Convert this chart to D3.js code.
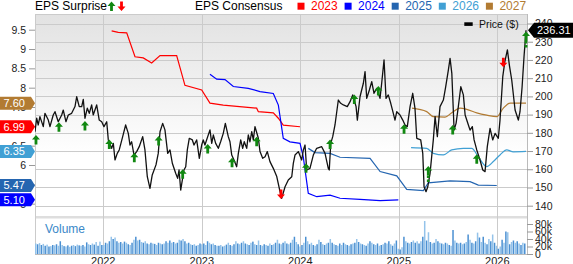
<!DOCTYPE html>
<html><head><meta charset="utf-8">
<script src="https://cdn.jsdelivr.net/npm/d3@7"></script>
<style>body{margin:0;background:#fff}svg{display:block;font-family:"Liberation Sans",Arial,sans-serif}</style>
</head><body><svg id="c" width="573" height="264"></svg>
<script>
// ---------- DATA (decimal year, value) ----------
const priceData = [
[2021.307,180.6],[2021.324,188.0],[2021.340,184.3],[2021.357,188.9],[2021.391,183.4],[2021.408,190.7],[2021.442,187.0],[2021.459,183.4],[2021.492,189.8],[2021.510,191.6],[2021.543,186.1],[2021.578,189.8],[2021.594,192.5],[2021.621,186.1],[2021.645,189.8],[2021.679,190.7],[2021.713,194.4],[2021.730,199.8],[2021.756,194.4],[2021.781,194.4],[2021.797,198.4],[2021.814,188.0],[2021.838,193.5],[2021.858,190.7],[2021.882,195.3],[2021.898,189.8],[2021.933,195.3],[2021.959,187.0],[2021.984,186.1],
[2022.007,183.4],[2022.035,186.1],[2022.051,176.1],[2022.085,171.5],[2022.102,174.2],[2022.119,165.1],[2022.142,168.7],[2022.162,170.6],[2022.197,177.9],[2022.227,184.3],[2022.254,179.7],[2022.271,173.3],[2022.288,175.1],[2022.312,167.8],[2022.339,169.7],[2022.365,172.4],[2022.400,177.9],[2022.423,170.6],[2022.447,155.9],[2022.474,149.5],[2022.497,156.9],[2022.535,162.4],[2022.558,168.7],[2022.576,180.6],[2022.603,185.2],[2022.626,181.6],[2022.654,168.7],[2022.677,170.6],[2022.701,163.3],[2022.735,157.8],[2022.755,155.0],[2022.769,159.6],[2022.786,148.6],[2022.819,159.6],[2022.837,161.4],[2022.853,170.6],[2022.873,177.0],[2022.904,176.1],[2022.921,173.3],[2022.948,176.1],[2022.975,166.0],[2022.999,173.3],
[2023.015,176.1],[2023.032,173.3],[2023.083,181.6],[2023.101,174.2],[2023.117,178.8],[2023.141,174.2],[2023.168,171.5],[2023.192,175.2],[2023.218,179.7],[2023.239,185.2],[2023.269,177.9],[2023.286,175.1],[2023.304,167.8],[2023.327,165.1],[2023.354,161.4],[2023.371,168.7],[2023.395,176.1],[2023.415,171.5],[2023.431,175.1],[2023.456,171.5],[2023.472,178.8],[2023.489,175.1],[2023.507,180.6],[2023.523,176.1],[2023.540,183.4],[2023.574,177.0],[2023.591,169.7],[2023.618,166.0],[2023.642,166.9],[2023.665,169.7],[2023.692,164.2],[2023.726,160.5],[2023.761,156.0],[2023.794,147.7],[2023.811,144.0],[2023.845,150.4],[2023.878,154.1],[2023.913,155.9],[2023.929,163.2],[2023.946,167.8],[2023.980,169.7],
[2024.014,165.1],[2024.031,170.6],[2024.048,173.3],[2024.065,159.6],[2024.098,160.5],[2024.132,167.8],[2024.166,171.5],[2024.217,172.4],[2024.251,168.7],[2024.284,160.5],[2024.294,159.6],[2024.309,174.2],[2024.329,177.9],[2024.352,184.3],[2024.386,198.0],[2024.410,196.2],[2024.437,195.3],[2024.477,194.4],[2024.505,197.1],[2024.532,200.8],[2024.566,194.4],[2024.579,187.0],[2024.606,199.8],[2024.640,207.2],[2024.657,213.6],[2024.674,198.9],[2024.701,203.5],[2024.725,208.1],[2024.748,201.7],[2024.776,204.4],[2024.809,198.9],[2024.826,207.2],[2024.850,220.0],[2024.870,198.9],[2024.893,200.8],[2024.918,196.2],[2024.944,190.7],[2024.961,187.0],[2024.979,191.6],
[2025.012,189.8],[2025.040,187.0],[2025.063,184.3],[2025.086,183.4],[2025.114,194.4],[2025.141,201.7],[2025.164,193.4],[2025.182,177.0],[2025.222,176.1],[2025.243,168.7],[2025.256,150.4],[2025.276,147.7],[2025.294,150.4],[2025.317,157.8],[2025.350,176.1],[2025.368,188.9],[2025.391,177.9],[2025.418,194.4],[2025.452,198.0],[2025.476,205.3],[2025.503,214.5],[2025.520,220.9],[2025.538,212.6],[2025.561,181.5],[2025.581,185.2],[2025.604,194.4],[2025.629,205.3],[2025.655,200.8],[2025.673,189.8],[2025.706,184.3],[2025.723,181.5],[2025.746,183.4],[2025.764,176.1],[2025.791,170.6],[2025.824,165.1],[2025.852,159.6],[2025.875,158.7],[2025.898,172.4],[2025.926,182.4],[2025.953,176.1],[2025.977,179.7],
[2026.010,177.0],[2026.027,187.0],[2026.055,210.8],[2026.076,219.1],[2026.102,225.5],[2026.122,217.2],[2026.146,209.0],[2026.180,192.5],[2026.213,187.0],[2026.230,191.6],[2026.251,205.0],[2026.271,222.0],[2026.291,236.31]
];
const cons2023 = [[2022.085,9.47],[2022.152,9.43],[2022.238,9.42],[2022.322,8.80],[2022.406,8.77],[2022.491,8.64],[2022.576,8.83],[2022.745,8.83],[2022.829,8.06],[2022.999,7.94],[2023.083,7.60],[2023.218,7.55],[2023.557,7.47],[2023.574,7.38],[2023.726,7.35],[2023.777,7.21],[2023.827,7.03],[2023.997,6.99]];
const cons2024 = [[2023.083,8.35],[2023.151,8.22],[2023.236,8.21],[2023.320,8.03],[2023.472,7.98],[2023.591,7.90],[2023.726,7.85],[2023.777,7.55],[2023.827,6.69],[2023.895,6.60],[2023.997,6.56],[2024.030,6.21],[2024.081,5.27],[2024.167,5.18],[2024.302,5.22],[2024.403,5.14],[2024.606,5.11],[2024.810,5.08],[2024.995,5.10]];
const cons2025 = [[2024.081,6.43],[2024.149,6.32],[2024.302,6.30],[2024.403,6.20],[2024.708,6.17],[2024.810,5.83],[2024.979,5.72],[2025.080,5.37],[2025.249,5.34],[2025.299,5.54],[2025.520,5.59],[2025.723,5.57],[2025.807,5.48],[2025.994,5.47]];
const cons2026 = [[2025.124,6.45],[2025.283,6.43],[2025.350,6.30],[2025.452,6.26],[2025.537,6.39],[2025.655,6.43],[2025.740,6.43],[2025.807,6.21],[2025.892,5.96],[2025.959,6.09],[2026.027,6.26],[2026.095,6.39],[2026.162,6.34],[2026.291,6.35]];
const cons2027 = [[2025.134,7.47],[2025.283,7.38],[2025.350,7.25],[2025.469,7.24],[2025.537,7.35],[2025.621,7.47],[2025.689,7.44],[2025.791,7.35],[2025.892,7.29],[2025.994,7.25],[2026.061,7.47],[2026.129,7.60],[2026.291,7.60]];
const seriesYears = ["2023","2024","2025","2026","2027"];
// surprise markers: [date, price level of arrow tip, type, extended stem]
const surprises = [[2021.317,178.8,"beat"],[2021.550,185.8,"beat"],[2021.814,186.5,"beat"],[2022.061,176.4,"beat"],[2022.315,169.1,"beat"],[2022.562,178.3,"beat"],[2022.806,160.0,"beat"],[2023.060,173.9,"beat"],[2023.307,166.3,"beat"],[2023.557,177.9,"beat"],[2023.804,143.7,"miss"],[2024.058,163.3,"beat"],[2024.302,176.4,"beat"],[2024.548,201.1,"beat"],[2024.792,205.7,"beat"],[2025.053,184.7,"beat"],[2025.299,161.8,"beat",true],[2025.547,184.3,"beat"],[2025.791,168.2,"beat"],[2026.061,216.0,"miss"],[2026.291,235.6,"beat",true]];
// weekly volume, thousands
const volumeStart = 2021.307;
const volumeK = [
28,26,29,24,27,22,25,20,21,24,23,26,22,34,24,21,20,23,19,22,24,21,25,23,22,24,20,31,26,24,28,25,32,22,33,24,
24,30,28,34,46,40,44,34,30,32,28,33,30,26,24,30,38,46,36,38,32,30,34,28,26,30,28,27,24,30,28,26,28,34,30,36,30,32,28,30,38,36,40,34,28,30,26,24,26,22,24,28,
26,28,24,34,30,26,28,24,22,22,24,20,22,25,30,24,22,26,34,28,26,30,34,28,26,24,30,33,26,24,36,24,22,26,24,22,28,24,26,30,38,28,26,30,34,28,26,30,38,46,32,26,
20,24,30,46,34,26,30,24,22,26,38,32,26,24,28,30,40,30,26,24,22,28,24,30,26,24,22,26,28,30,40,32,28,26,24,22,28,34,30,26,24,28,22,24,26,30,28,34,26,22,28,36,
14,12,18,46,34,30,28,32,36,30,34,28,34,46,88,36,58,32,28,30,40,34,30,28,26,30,28,24,22,64,36,30,28,30,26,28,32,52,38,30,28,34,57,44,32,46,30,26,40,34,52,30,
22,14,20,38,30,60,58,26,32,36,30,34,28,24,30,28
];
const yearTicks = [2022,2023,2024,2025,2026];
const priceTicks = [140,150,160,170,180,190,200,210,220,230,240];
const epsTicks = [5,5.5,6,6.5,7,7.5,8,8.5,9,9.5];
const volTicks = [0,20,40,60,80];
const lastPrice = 236.31;
const colors = {"2023":"#ff0000","2024":"#0000ff","2025":"#2465b0","2026":"#41a0d4","2027":"#b27b32"};

// ---------- LAYOUT ----------
const L = 35, R = 527, T = 14, MB = 216, VT = 218, VB = 254;
const svg = d3.select("#c");
const x = d3.scaleLinear().domain([2021.307, 2026.301]).range([L, R]);
const yP = d3.scaleLinear().domain([140, 240]).range([205.7, 23.5]);
const yE = d3.scaleLinear().domain([6, 9.5]).range([165, 29.7]);
const yV = d3.scaleLinear().domain([0, 80]).range([VB, 224]);

const defs = svg.append("defs");
const gr = defs.append("linearGradient").attr("id","bg").attr("x1",0).attr("y1",0).attr("x2",0).attr("y2",1);
gr.append("stop").attr("offset","0").attr("stop-color","#e2e2e2");
gr.append("stop").attr("offset","0.7").attr("stop-color","#ffffff");
defs.append("clipPath").attr("id","clipM").append("rect").attr("x",L).attr("y",T).attr("width",R-L+6).attr("height",MB-T);

svg.append("rect").attr("x",L).attr("y",T).attr("width",R-L).attr("height",MB-T).attr("fill","url(#bg)");
svg.append("rect").attr("x",L).attr("y",MB).attr("width",R-L).attr("height",VT-MB+0.5).attr("fill","#dedede");

// gridlines
const grid = svg.append("g").attr("stroke","#cbcbcb").attr("stroke-width",1);
priceTicks.forEach(p => grid.append("line").attr("x1",L).attr("x2",R).attr("y1",Math.round(yP(p))+0.5).attr("y2",Math.round(yP(p))+0.5));
yearTicks.forEach(t => grid.append("line").attr("x1",Math.round(x(t))+0.5).attr("x2",Math.round(x(t))+0.5).attr("y1",T).attr("y2",VB));
grid.append("line").attr("x1",L).attr("x2",R).attr("y1",T+0.5).attr("y2",T+0.5);
grid.append("line").attr("x1",L+0.5).attr("x2",L+0.5).attr("y1",T).attr("y2",VB);
grid.append("line").attr("x1",R+0.5).attr("x2",R+0.5).attr("y1",T).attr("y2",VB).attr("stroke","#bbb");
grid.append("line").attr("x1",L).attr("x2",R).attr("y1",VB+0.5).attr("y2",VB+0.5).attr("stroke","#bbb");

// volume bars
const step = 7/365.25;
svg.append("g").selectAll("rect").data(volumeK).join("rect")
  .attr("x",(d,i)=>x(volumeStart + i*step))
  .attr("width",1.5)
  .attr("y",d=>yV(d)).attr("height",d=>VB-yV(d))
  .attr("fill",(d,i)=> i%2 ? "#4b90d2" : "#94c3ea");
svg.append("text").attr("x",45).attr("y",233).attr("font-size",12).attr("fill","#3a88c8").text("Volume");

// consensus lines
const main = svg.append("g").attr("clip-path","url(#clipM)");
const allCons = [cons2023, cons2024, cons2025, cons2026, cons2027];
const lineE = d3.line().x(d=>x(d[0])).y(d=>yE(d[1]));
allCons.forEach((s,i) => {
  main.append("path").datum(s).attr("fill","none").attr("stroke",colors[seriesYears[i]]).attr("stroke-width",1.2)
    .attr("d", lineE.curve(i>=3 ? d3.curveMonotoneX : d3.curveLinear)(s));
});
// price line
main.append("path").datum(priceData).attr("fill","none").attr("stroke","#111").attr("stroke-width",1.3)
  .attr("stroke-linejoin","round")
  .attr("d", d3.line().x(d=>x(d[0])).y(d=>yP(d[1]))(priceData));

// surprise arrows
const upArrow = "M0,0L4,4.5L1.4,4.5L1.4,9.5L-1.4,9.5L-1.4,4.5L-4,4.5Z";
const gA = svg.append("g");
surprises.forEach(s => {
  const px = x(s[0]), py = yP(s[1]);
  const beat = s[2] === "beat";
  const col = beat ? "#118811" : "#ff0000";
  const g = gA.append("g").attr("transform", `translate(${px},${py})` + (beat ? "" : " scale(1,-1)"));
  g.append("path").attr("d", upArrow).attr("fill", col);
  if (s[3]) g.append("line").attr("x1",0).attr("x2",0).attr("y1",9.5).attr("y2",17).attr("stroke",col).attr("stroke-width",2.8).attr("stroke-dasharray","2.5,1.5");
});

// axes
const axR = svg.append("g").attr("transform",`translate(${R},0)`)
  .call(d3.axisRight(yP).tickValues(priceTicks).tickSize(6).tickPadding(2).tickFormat(d3.format("d")));
const axV = svg.append("g").attr("transform",`translate(${R},0)`)
  .call(d3.axisRight(yV).tickValues(volTicks).tickSize(6).tickPadding(2).tickFormat(d=> d ? d+"k" : "0"));
const axL = svg.append("g").attr("transform",`translate(${L},0)`)
  .call(d3.axisLeft(yE).tickValues(epsTicks).tickSize(6).tickPadding(3).tickFormat(d=>String(d)));
[axR, axV, axL].forEach(a => {
  a.select(".domain").remove();
  a.selectAll(".tick line").attr("stroke","#999");
  a.selectAll("text").attr("font-size",10.5).attr("fill","#222").attr("font-family","Liberation Sans, Arial, sans-serif");
});
svg.append("g").selectAll("text").data(yearTicks).join("text")
  .attr("x",d=>x(d)).attr("y",265).attr("text-anchor","middle").attr("font-size",11).attr("fill","#222")
  .text(d=>d);

// badges of latest consensus
const badges = allCons.map((s,i)=>({v:s[s.length-1][1], c:colors[seriesYears[i]]}));
const gb = svg.append("g");
badges.forEach(b => {
  const cy = yE(b.v);
  gb.append("path").attr("d",`M0,${cy-6.5}L31,${cy-6.5}L35,${cy}L31,${cy+6.5}L0,${cy+6.5}Z`).attr("fill",b.c);
  gb.append("text").attr("x",3.5).attr("y",cy+4).attr("font-size",11).attr("fill","#fff").text(b.v.toFixed(2));
});

// price label
const ly = yP(lastPrice);
svg.append("path").attr("d",`M528,${ly}L534,${ly-7.5}L573,${ly-7.5}L573,${ly+7.5}L534,${ly+7.5}Z`).attr("fill","#000");
svg.append("text").attr("x",537).attr("y",ly+4).attr("font-size",11).attr("fill","#fff").text(lastPrice.toFixed(2));

// legends
svg.append("text").attr("x",35).attr("y",10.3).attr("font-size",12).attr("fill","#000").text("EPS Surprise");
svg.append("path").attr("d",upArrow).attr("fill","#118811").attr("transform","translate(111.5,1.5)");
svg.append("path").attr("d",upArrow).attr("fill","#ff0000").attr("transform","translate(121.5,11) scale(1,-1)");
svg.append("text").attr("x",195).attr("y",10.3).attr("font-size",12).attr("fill","#000").text("EPS Consensus");
seriesYears.forEach((yr,i) => {
  const sx = 297.5 + i*47.1;
  svg.append("rect").attr("x",sx).attr("y",2.7).attr("width",7).attr("height",7).attr("fill",colors[yr]);
  svg.append("text").attr("x",sx+13.5).attr("y",10.3).attr("font-size",12).attr("fill",colors[yr]).text(yr);
});
svg.append("rect").attr("x",464.3).attr("y",22.3).attr("width",8.4).attr("height",3.6).attr("fill","#000");
svg.append("text").attr("x",479).attr("y",28).attr("font-size",10.5).attr("fill","#111").text("Price ($)");
</script></body></html>
